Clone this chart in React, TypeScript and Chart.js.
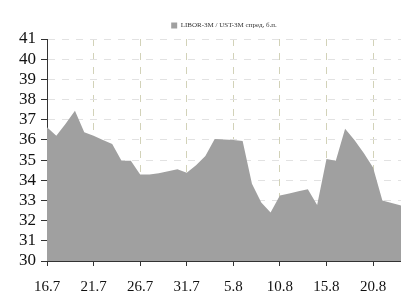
import React, { useEffect, useRef } from "react";
import { Chart, registerables } from "chart.js";

Chart.register(...registerables);

const dates: string[] = [
  "16.7", "17.7", "18.7", "19.7", "20.7", "21.7", "22.7", "23.7", "24.7", "25.7",
  "26.7", "27.7", "28.7", "29.7", "30.7", "31.7", "1.8", "2.8", "3.8", "4.8",
  "5.8", "6.8", "7.8", "8.8", "9.8", "10.8", "11.8", "12.8", "13.8", "14.8",
  "15.8", "16.8", "17.8", "18.8", "19.8", "20.8", "21.8", "22.8", "23.8",
];

const spread: number[] = [
  36.63, 36.2, 36.8, 37.45, 36.38, 36.2, 36.0, 35.8, 34.97, 34.97,
  34.28, 34.28, 34.35, 34.45, 34.55, 34.37, 34.75, 35.2, 36.05, 36.02,
  36.0, 35.95, 33.83, 32.9, 32.4, 33.25, 33.35, 33.45, 33.55, 32.78,
  35.05, 34.97, 36.55, 36.0, 35.35, 34.63, 33.0, 32.88, 32.75,
];

const seriesName = "LIBOR-3M / UST-3M спред, б.п.";
const yMin = 30;
const yMax = 41;

export default function App() {
  const ref = useRef<HTMLCanvasElement | null>(null);

  useEffect(() => {
    document.body.style.margin = "0";
    const canvas = ref.current;
    if (!canvas) return;
    const font = "'Liberation Serif', 'DejaVu Serif', serif";
    const chart = new Chart(canvas, {
      type: "line",
      data: {
        labels: dates,
        datasets: [
          {
            label: seriesName,
            data: spread,
            fill: "start",
            backgroundColor: "#a0a0a0",
            borderColor: "#a0a0a0",
            borderWidth: 0,
            pointRadius: 0,
            tension: 0,
          },
        ],
      },
      options: {
        responsive: false,
        animation: false,
        layout: { padding: { left: 14, right: 0, top: -7, bottom: -17 } },
        plugins: {
          legend: {
            display: true,
            position: "top",
            fullSize: false,
            labels: {
              boxWidth: 6,
              boxHeight: 6,
              padding: 19,
              color: "#333",
              font: { family: font, size: 7 },
            },
          },
          tooltip: { enabled: false },
        },
        scales: {
          x: {
            type: "category",
            offset: false,
            afterFit: (s: any) => {
              s.paddingRight = 0;
            },
            border: { display: true, color: "#333", width: 1, dash: [7, 7] },
            grid: {
              display: true,
              drawOnChartArea: true,
              drawTicks: true,
              tickLength: 5,
              color: (ctx: any) => (ctx.index % 5 === 0 && ctx.index !== 0 ? "#d2d2b8" : "transparent"),
              tickColor: (ctx: any) => (ctx.index % 5 === 0 ? "#333" : "transparent"),
              lineWidth: 1,
            },
            ticks: {
              autoSkip: false,
              maxRotation: 0,
              minRotation: 0,
              padding: 12,
              color: "#111",
              font: { family: font, size: 15 },
              callback: (_v: any, i: number) => (i % 5 === 0 ? dates[i] : ""),
            },
          },
          y: {
            min: yMin,
            max: yMax,
            afterFit: (s: any) => {
              s.paddingTop = 39;
            },
            border: { display: true, color: "#333", width: 1, dash: [7, 7] },
            grid: {
              display: true,
              color: (ctx: any) => (ctx.tick && ctx.tick.value === yMin ? "transparent" : "#e2e2e2"),
              tickColor: "#333",
              tickLength: 6,
              lineWidth: 1,
            },
            ticks: {
              stepSize: 1,
              autoSkip: false,
              padding: 5,
              color: "#111",
              font: { family: font, size: 17 },
            },
          },
        },
      },
    } as any);
    return () => chart.destroy();
  }, []);

  return (
    <div style={{ width: 401, height: 291 }}>
      <canvas ref={ref} width={401} height={291} />
    </div>
  );
}
